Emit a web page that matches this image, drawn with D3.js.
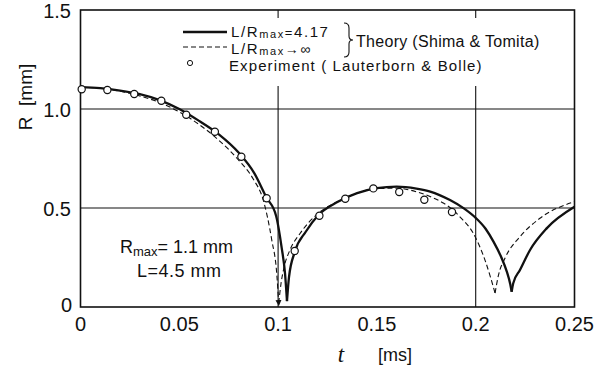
<!DOCTYPE html>
<html>
<head>
<meta charset="utf-8">
<script src="https://cdn.jsdelivr.net/npm/d3@7"></script>
<style>
  body { margin: 0; background: #fff; }
  text { font-family: "Liberation Sans", Arial, sans-serif; fill: #111; }
</style>
</head>
<body>
<svg id="chart" width="599" height="374"></svg>
<script>
// experiment (Lauterborn & Bolle)
const expT = [0.0006, 0.0136, 0.0272, 0.0409, 0.0535, 0.068, 0.0814, 0.0942, 0.1084, 0.1209, 0.134, 0.1482, 0.1613, 0.174, 0.188]
const expR = [1.10, 1.096, 1.076, 1.042, 0.971, 0.885, 0.759, 0.549, 0.283, 0.461, 0.547, 0.599, 0.581, 0.542, 0.48]

// theory L/Rmax = 4.17, split at the cusps
const solidT = [
  [0, 0.01, 0.02, 0.03, 0.04, 0.05, 0.06, 0.07, 0.08, 0.088, 0.094, 0.099, 0.1018, 0.1035, 0.1045],
  [0.1045, 0.1055, 0.1085, 0.114, 0.1203, 0.13, 0.14, 0.15, 0.16, 0.17, 0.177, 0.187, 0.194, 0.2, 0.205, 0.209, 0.213, 0.2157, 0.2175, 0.2182],
  [0.2182, 0.219, 0.2224, 0.2275, 0.2359, 0.25]
]
const solidR = [
  [1.11, 1.105, 1.093, 1.075, 1.045, 1.0, 0.94, 0.872, 0.78, 0.675, 0.555, 0.46, 0.3, 0.17, 0.03],
  [0.03, 0.15, 0.28, 0.38, 0.463, 0.53, 0.575, 0.6, 0.608, 0.598, 0.583, 0.54, 0.498, 0.45, 0.395, 0.33, 0.25, 0.18, 0.115, 0.077],
  [0.077, 0.12, 0.187, 0.288, 0.397, 0.506]
]

// theory L/Rmax -> infinity
const dashT = [
  [0, 0.01, 0.02, 0.03, 0.04, 0.05, 0.06, 0.07, 0.08, 0.0875, 0.0925, 0.0968, 0.0993, 0.1003],
  [0.1003, 0.1015, 0.103, 0.106, 0.111, 0.1203, 0.13, 0.14, 0.15, 0.16, 0.17, 0.1769, 0.1836, 0.1885, 0.192, 0.1988, 0.2047, 0.2075, 0.2098],
  [0.2098, 0.2115, 0.2148, 0.2224, 0.2325, 0.25]
]
const dashR = [
  [1.11, 1.105, 1.09, 1.066, 1.033, 0.985, 0.922, 0.842, 0.742, 0.645, 0.54, 0.338, 0.17, 0.02],
  [0.02, 0.12, 0.2, 0.288, 0.37, 0.473, 0.532, 0.575, 0.598, 0.6, 0.582, 0.558, 0.525, 0.49, 0.455, 0.372, 0.237, 0.15, 0.07],
  [0.07, 0.16, 0.246, 0.355, 0.448, 0.532]
]

const xTicks = [0, 0.05, 0.1, 0.15, 0.2, 0.25]
const xTickLabels = ["0", "0.05", "0.1", "0.15", "0.2", "0.25"]
const yTicks = [0.5, 1.0, 1.5]
const yTickLabels = ["0.5", "1.0", "1.5"]
const xGrid = [0.1, 0.2]
const yGrid = [0.5, 1.0]

const svg = d3.select("#chart")

const x = d3.scaleLinear().domain([0, 0.25]).range([80.5, 574.5])
const y = d3.scaleLinear().domain([0, 1.5]).range([307, 10])

// grid
svg.append("g").selectAll("line").data(xGrid).join("line")
    .attr("x1", d => x(d)).attr("x2", d => x(d))
    .attr("y1", y(1.5)).attr("y2", y(0))
    .attr("stroke", "#111").attr("stroke-width", 1.1)
svg.append("g").selectAll("line").data(yGrid).join("line")
    .attr("x1", x(0)).attr("x2", x(0.25))
    .attr("y1", d => y(d)).attr("y2", d => y(d))
    .attr("stroke", "#111").attr("stroke-width", 1.1)

// legend background hides the grid
svg.append("rect")
    .attr("x", 172).attr("y", 18).attr("width", 375).attr("height", 68)
    .attr("fill", "#fff")

// frame
svg.append("rect")
    .attr("x", x(0)).attr("y", y(1.5))
    .attr("width", x(0.25) - x(0)).attr("height", y(0) - y(1.5))
    .attr("fill", "none").attr("stroke", "#111").attr("stroke-width", 1.6)

svg.append("svg:defs").append("svg:marker")
    .attr("id", "arrow")
    .attr("refX", 3).attr("refY", 3)
    .attr("markerWidth", 6).attr("markerHeight", 7)
    .attr("markerUnits", "userSpaceOnUse")
    .attr("orient", "auto")
  .append("path")
    .attr("d", "M0,0 L6,3 L0,6 Z")
    .attr("fill", "#111")

const line = d3.line().curve(d3.curveMonotoneX)

solidT.forEach((ts, i) => {
  svg.append("path")
    .attr("d", line(ts.map((t, j) => [x(t), y(solidR[i][j])])))
    .attr("fill", "none").attr("stroke", "#111").attr("stroke-width", 2.3)
    .attr("stroke-linejoin", "miter")
})

dashT.forEach((ts, i) => {
  const p = svg.append("path")
    .attr("d", line(ts.map((t, j) => [x(t), y(dashR[i][j])])))
    .attr("fill", "none").attr("stroke", "#111").attr("stroke-width", 1.1)
    .attr("stroke-dasharray", "5,3")
  if (i == 0) p.attr("marker-end", "url(#arrow)")
})

svg.append("g").selectAll("circle").data(expT).join("circle")
    .attr("cx", d => x(d))
    .attr("cy", (d, i) => y(expR[i]))
    .attr("r", 3.6)
    .attr("fill", "#fff").attr("stroke", "#111").attr("stroke-width", 1.2)

// tick labels
svg.append("g").selectAll("text").data(xTicks).join("text")
    .attr("x", d => x(d)).attr("y", 331)
    .attr("text-anchor", "middle").attr("font-size", 20)
    .text((d, i) => xTickLabels[i])
svg.append("g").selectAll("text").data(yTicks).join("text")
    .attr("x", 71).attr("y", d => y(d) + 8)
    .attr("text-anchor", "end").attr("font-size", 20)
    .text((d, i) => yTickLabels[i])
svg.append("text").attr("x", 72).attr("y", y(0) + 5)
    .attr("text-anchor", "end").attr("font-size", 20).text("0")

// axis titles
svg.append("text")
    .attr("transform", "translate(32,97) rotate(-90)")
    .attr("text-anchor", "middle").attr("font-size", 19)
    .attr("xml:space", "preserve")
    .text("R  [mm]")
svg.append("text").attr("x", 341).attr("y", 362)
    .attr("text-anchor", "middle").attr("font-size", 23)
    .style("font-family", "'Liberation Serif', serif").style("font-style", "italic")
    .text("t")
svg.append("text").attr("x", 378).attr("y", 361)
    .attr("font-size", 18).text("[ms]")

// legend
const leg = svg.append("g").attr("font-size", 14)
leg.append("line").attr("x1", 183).attr("x2", 227).attr("y1", 32).attr("y2", 32)
    .attr("stroke", "#111").attr("stroke-width", 2.3)
leg.append("line").attr("x1", 183).attr("x2", 227).attr("y1", 47).attr("y2", 47)
    .attr("stroke", "#111").attr("stroke-width", 1.1).attr("stroke-dasharray", "5,3")
leg.append("circle").attr("cx", 190).attr("cy", 63).attr("r", 2.6)
    .attr("fill", "#fff").attr("stroke", "#111").attr("stroke-width", 1)

const t1 = leg.append("text").attr("x", 231).attr("y", 37).attr("letter-spacing", 1.6)
t1.append("tspan").attr("font-size", 15).text("L/R")
t1.append("tspan").attr("font-size", 11).attr("dy", 1).text("max")
t1.append("tspan").attr("dy", -1).attr("font-size", 13).text("=")
t1.append("tspan").attr("font-size", 15).text("4.17")

const t2 = leg.append("text").attr("x", 231).attr("y", 53.5).attr("letter-spacing", 1.6)
t2.append("tspan").attr("font-size", 15).text("L/R")
t2.append("tspan").attr("font-size", 11).attr("dy", 1).text("max")
t2.append("tspan").attr("dy", -1).text("→∞")

leg.append("path")
    .attr("d", "M344,23 Q349,23 349,28 L349,36 Q349,40 353,40 Q349,40 349,44 L349,52 Q349,57 344,57")
    .attr("fill", "none").attr("stroke", "#111").attr("stroke-width", 1.1)
leg.append("text").attr("x", 356).attr("y", 47).attr("font-size", 16)
    .attr("letter-spacing", 0.3).text("Theory (Shima & Tomita)")
leg.append("text").attr("x", 229).attr("y", 70.5).attr("font-size", 15)
    .attr("letter-spacing", 1.1)
    .attr("xml:space", "preserve")
    .text("Experiment ( Lauterborn & Bolle)")

// bubble parameters
const a1 = svg.append("text").attr("x", 120).attr("y", 253).attr("font-size", 18)
    .attr("xml:space", "preserve")
a1.append("tspan").text("R")
a1.append("tspan").attr("font-size", 13).attr("dy", 3).text("max")
a1.append("tspan").attr("dy", -3).text("= 1.1 mm")
svg.append("text").attr("x", 137).attr("y", 277).attr("font-size", 18)
    .attr("letter-spacing", 0.5).text("L=4.5 mm")
</script>
</body>
</html>
